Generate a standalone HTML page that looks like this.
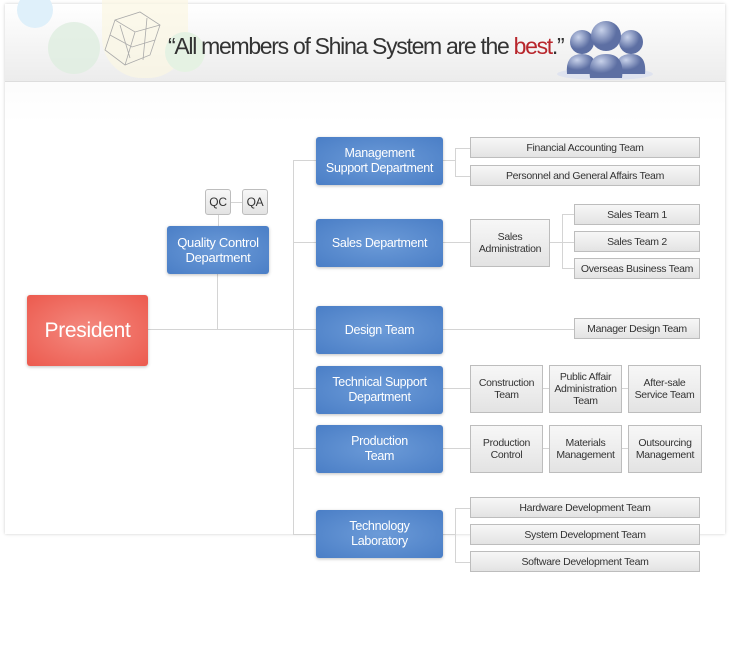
<!DOCTYPE html>
<html><head><meta charset="utf-8"><style>
*{margin:0;padding:0;box-sizing:border-box}
body{width:730px;height:670px;background:#fff;position:relative;overflow:hidden;font-family:"Liberation Sans",sans-serif}
.abs{position:absolute}
.panel{left:5px;top:4px;width:720px;height:530px;background:linear-gradient(#f6f6f6,#fff 120px);box-shadow:0 0 3px #ccc}
.head{left:5px;top:4px;width:720px;height:78px;background:linear-gradient(#fff,#ececec);border-bottom:1px solid #ddd}
.b{position:absolute;display:flex;align-items:center;justify-content:center;text-align:center;color:#fff;font-size:12.5px;line-height:15px;border-radius:3px;background:radial-gradient(ellipse at center,#6c9bd8,#4a7ec6);box-shadow:0 1px 3px rgba(0,0,0,.25);letter-spacing:-.3px}
.g{position:absolute;display:flex;align-items:center;justify-content:center;text-align:center;color:#333;font-size:10.5px;line-height:12px;background:linear-gradient(#f7f7f7,#e3e3e3);border:1px solid #bdbdbd;letter-spacing:-.3px}
.h{position:absolute;height:1px;background:#d4d4d4}
.v{position:absolute;width:1px;background:#d4d4d4}
</style></head><body>
<div class="abs panel"></div>
<div class="abs head"></div>
<div class="abs" style="left:17px;top:-8px;width:36px;height:36px;border-radius:50%;background:#dff0fa"></div>
<div class="abs" style="left:48px;top:22px;width:52px;height:52px;border-radius:50%;background:#dfeee0;opacity:.8"></div>
<div class="abs" style="left:102px;top:0;width:86px;height:78px;background:#fbf6e3;border-radius:0 0 40px 40px;opacity:.7"></div>
<div class="abs" style="left:165px;top:32px;width:40px;height:40px;border-radius:50%;background:#e5f2e3"></div>
<svg class="abs" style="left:95px;top:10px" width="80" height="62"><g fill="none" stroke="#aaa" stroke-width=".8"><path d="M20 10 L45 2 L65 15 L55 45 L30 55 L10 40 Z M20 10 L40 22 L65 15 M40 22 L30 55 M15 25 L37 37 L60 30 M25 15 L35 48 M52 8 L48 50"/></g></svg>
<div class="abs" style="left:168px;top:33px;font-size:23px;color:#333;letter-spacing:-1.3px">“All members of Shina System are the <span style="color:#b8262c">best</span>.”</div>
<svg class="abs" style="left:550px;top:12px" width="110" height="70"><defs><radialGradient id="p" cx=".35" cy=".3"><stop offset="0" stop-color="#c8d2ea"/><stop offset="1" stop-color="#5d6fa3"/></radialGradient></defs>
<ellipse cx="55" cy="62" rx="48" ry="6" fill="#dfe3ef"/>
<circle cx="32" cy="30" r="12" fill="url(#p)"/><path d="M17 62 Q15 42 32 42 Q48 42 46 62Z" fill="url(#p)"/>
<circle cx="81" cy="30" r="12" fill="url(#p)"/><path d="M66 62 Q64 42 81 42 Q97 42 95 62Z" fill="url(#p)"/>
<circle cx="56" cy="24" r="15" fill="url(#p)"/><path d="M40 66 Q37 42 56 42 Q75 42 72 66Z" fill="url(#p)"/></svg>

<div class="h" style="left:148px;top:329px;width:168px"></div>
<div class="v" style="left:217px;top:274px;height:55px"></div>
<div class="v" style="left:218px;top:215px;height:11px"></div>
<div class="h" style="left:231px;top:202px;width:11px"></div>
<div class="v" style="left:293px;top:160px;height:375px"></div>
<div class="h" style="left:293px;top:160px;width:23px"></div>
<div class="h" style="left:293px;top:242px;width:23px"></div>
<div class="h" style="left:293px;top:388px;width:23px"></div>
<div class="h" style="left:293px;top:448px;width:23px"></div>
<div class="h" style="left:293px;top:534px;width:23px"></div>
<div class="h" style="left:443px;top:160px;width:12px"></div>
<div class="v" style="left:455px;top:148px;height:28px"></div>
<div class="h" style="left:455px;top:148px;width:15px"></div>
<div class="h" style="left:455px;top:176px;width:15px"></div>
<div class="h" style="left:443px;top:242px;width:27px"></div>
<div class="h" style="left:550px;top:242px;width:24px"></div>
<div class="v" style="left:562px;top:214px;height:55px"></div>
<div class="h" style="left:562px;top:214px;width:12px"></div>
<div class="h" style="left:562px;top:268px;width:12px"></div>
<div class="h" style="left:443px;top:329px;width:131px"></div>
<div class="h" style="left:443px;top:388px;width:185px"></div>
<div class="h" style="left:443px;top:448px;width:185px"></div>
<div class="h" style="left:443px;top:534px;width:12px"></div>
<div class="v" style="left:455px;top:508px;height:54px"></div>
<div class="h" style="left:455px;top:508px;width:15px"></div>
<div class="h" style="left:455px;top:562px;width:15px"></div>

<div class="b" style="left:27px;top:295px;width:121px;height:71px;font-size:21px;background:radial-gradient(ellipse at center,#f48a80,#ec5a4e)">President</div>
<div class="g" style="left:205px;top:189px;width:26px;height:26px;border-radius:3px;font-size:12px">QC</div>
<div class="g" style="left:242px;top:189px;width:26px;height:26px;border-radius:3px;font-size:12px">QA</div>
<div class="b" style="left:167px;top:226px;width:102px;height:48px;font-size:13px">Quality Control<br>Department</div>
<div class="b" style="left:316px;top:137px;width:127px;height:48px">Management<br>Support Department</div>
<div class="b" style="left:316px;top:219px;width:127px;height:48px">Sales Department</div>
<div class="b" style="left:316px;top:306px;width:127px;height:48px">Design Team</div>
<div class="b" style="left:316px;top:366px;width:127px;height:48px">Technical Support<br>Department</div>
<div class="b" style="left:316px;top:425px;width:127px;height:48px">Production<br>Team</div>
<div class="b" style="left:316px;top:510px;width:127px;height:48px">Technology<br>Laboratory</div>

<div class="g" style="left:470px;top:137px;width:230px;height:21px">Financial Accounting Team</div>
<div class="g" style="left:470px;top:165px;width:230px;height:21px">Personnel and General Affairs Team</div>
<div class="g" style="left:470px;top:219px;width:80px;height:48px">Sales<br>Administration</div>
<div class="g" style="left:574px;top:204px;width:126px;height:21px">Sales Team 1</div>
<div class="g" style="left:574px;top:231px;width:126px;height:21px">Sales Team 2</div>
<div class="g" style="left:574px;top:258px;width:126px;height:21px">Overseas Business Team</div>
<div class="g" style="left:574px;top:318px;width:126px;height:21px">Manager Design Team</div>
<div class="g" style="left:470px;top:365px;width:73px;height:48px">Construction<br>Team</div>
<div class="g" style="left:549px;top:365px;width:73px;height:48px">Public Affair<br>Administration<br>Team</div>
<div class="g" style="left:628px;top:365px;width:73px;height:48px">After-sale<br>Service Team</div>
<div class="g" style="left:470px;top:425px;width:73px;height:48px">Production<br>Control</div>
<div class="g" style="left:549px;top:425px;width:73px;height:48px">Materials<br>Management</div>
<div class="g" style="left:628px;top:425px;width:74px;height:48px">Outsourcing<br>Management</div>
<div class="g" style="left:470px;top:497px;width:230px;height:21px">Hardware Development Team</div>
<div class="g" style="left:470px;top:524px;width:230px;height:21px">System Development Team</div>
<div class="g" style="left:470px;top:551px;width:230px;height:21px">Software Development Team</div>
</body></html>
